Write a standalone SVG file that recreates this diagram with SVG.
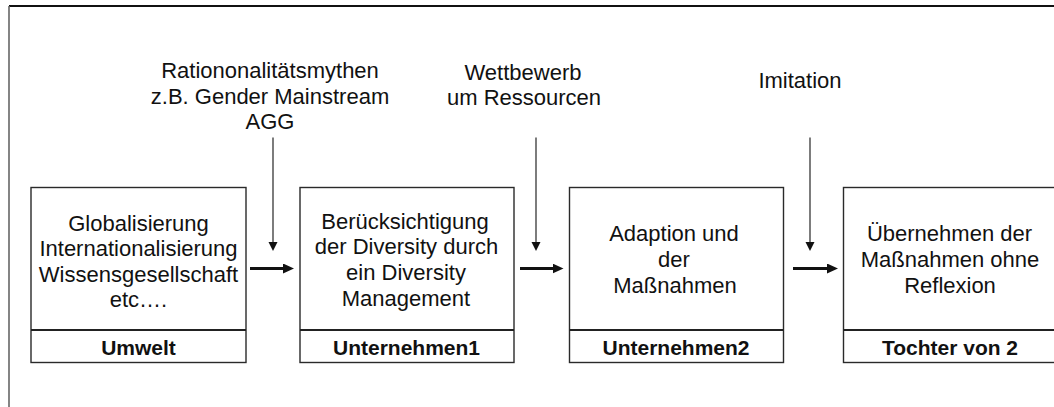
<svg xmlns="http://www.w3.org/2000/svg" width="1054" height="407" viewBox="0 0 1054 407">
  <style>
    .txt { font-family: "Liberation Sans", Arial, sans-serif; font-size: 22px; fill: #111; text-anchor: middle; }
    .lbl { font-family: "Liberation Sans", Arial, sans-serif; font-size: 21px; font-weight: bold; fill: #111; text-anchor: middle; }
    .box { fill: #fff; stroke: #2a2a2a; stroke-width: 1.4; }
    .div { stroke: #222; stroke-width: 2.2; }
    .thin { stroke: #111; stroke-width: 1.1; fill: none; }
    .thick { stroke: #111; stroke-width: 3; fill: none; }
  </style>
  <defs>
    <marker id="headThin" markerUnits="userSpaceOnUse" markerWidth="10" markerHeight="10" refX="3" refY="4.5" orient="auto">
      <path d="M0,0 L9,4.5 L0,9 z" fill="#111"/>
    </marker>
    <marker id="headThick" markerUnits="userSpaceOnUse" markerWidth="12" markerHeight="11" refX="3" refY="5" orient="auto">
      <path d="M0,0 L11,5 L0,10 z" fill="#111"/>
    </marker>
  </defs>

  <rect width="1054" height="407" fill="#fff"/>

  <!-- outer frame (open to the right and bottom) -->
  <g id="frame">
    <line x1="9" y1="6" x2="1054" y2="6" stroke="#111" stroke-width="1.8"/>
    <line x1="9" y1="6" x2="9" y2="407" stroke="#666" stroke-width="1.6"/>
  </g>

  <!-- influence labels -->
  <g id="label-rationalitaet">
    <text class="txt" x="270" y="78">Rationonalitätsmythen</text>
    <text class="txt" x="270" y="103.5">z.B. Gender Mainstream</text>
    <text class="txt" x="270" y="129">AGG</text>
  </g>
  <g id="label-wettbewerb">
    <text class="txt" x="523" y="79.5">Wettbewerb</text>
    <text class="txt" x="524" y="105">um Ressourcen</text>
  </g>
  <g id="label-imitation">
    <text class="txt" x="800" y="88">Imitation</text>
  </g>

  <!-- nodes -->
  <g id="umwelt">
    <rect class="box" x="31" y="187.5" width="215" height="175"/>
    <line class="div" x1="31" y1="330" x2="246" y2="330"/>
    <text class="txt" x="138.5" y="230.5">Globalisierung</text>
    <text class="txt" x="138.5" y="256">Internationalisierung</text>
    <text class="txt" x="138.5" y="281.5">Wissensgesellschaft</text>
    <text class="txt" x="138.5" y="307">etc….</text>
    <text class="lbl" x="138.5" y="355">Umwelt</text>
  </g>

  <g id="unternehmen1">
    <rect class="box" x="300" y="187.5" width="214" height="175"/>
    <line class="div" x1="300" y1="330" x2="514" y2="330"/>
    <text class="txt" x="405" y="228.5">Berücksichtigung</text>
    <text class="txt" x="406.5" y="254">der Diversity durch</text>
    <text class="txt" x="406" y="280">ein Diversity</text>
    <text class="txt" x="406" y="305.5">Management</text>
    <text class="lbl" x="406.5" y="355">Unternehmen1</text>
  </g>

  <g id="unternehmen2">
    <rect class="box" x="569.5" y="187.5" width="214" height="175"/>
    <line class="div" x1="569.5" y1="330" x2="783.5" y2="330"/>
    <text class="txt" x="674" y="241">Adaption und</text>
    <text class="txt" x="674" y="266.5">der</text>
    <text class="txt" x="675" y="292.5">Maßnahmen</text>
    <text class="lbl" x="676" y="355">Unternehmen2</text>
  </g>

  <g id="tochter">
    <rect class="box" x="843.5" y="187.5" width="214" height="175"/>
    <line class="div" x1="843.5" y1="330" x2="1057.5" y2="330"/>
    <text class="txt" x="949.5" y="241">Übernehmen der</text>
    <text class="txt" x="950" y="266.5">Maßnahmen ohne</text>
    <text class="txt" x="950" y="292.5">Reflexion</text>
    <text class="lbl" x="950" y="355">Tochter von 2</text>
  </g>

  <!-- connectors -->
  <g id="connectors">
    <line class="thin" x1="273" y1="137.5" x2="273" y2="245" marker-end="url(#headThin)"/>
    <line class="thin" x1="536" y1="137.5" x2="536" y2="245" marker-end="url(#headThin)"/>
    <line class="thin" x1="810" y1="137.5" x2="810" y2="245" marker-end="url(#headThin)"/>
    <line class="thick" x1="250" y1="268.5" x2="286" y2="268.5" marker-end="url(#headThick)"/>
    <line class="thick" x1="520" y1="268.5" x2="555.5" y2="268.5" marker-end="url(#headThick)"/>
    <line class="thick" x1="793" y1="268.5" x2="830" y2="268.5" marker-end="url(#headThick)"/>
  </g>
</svg>
